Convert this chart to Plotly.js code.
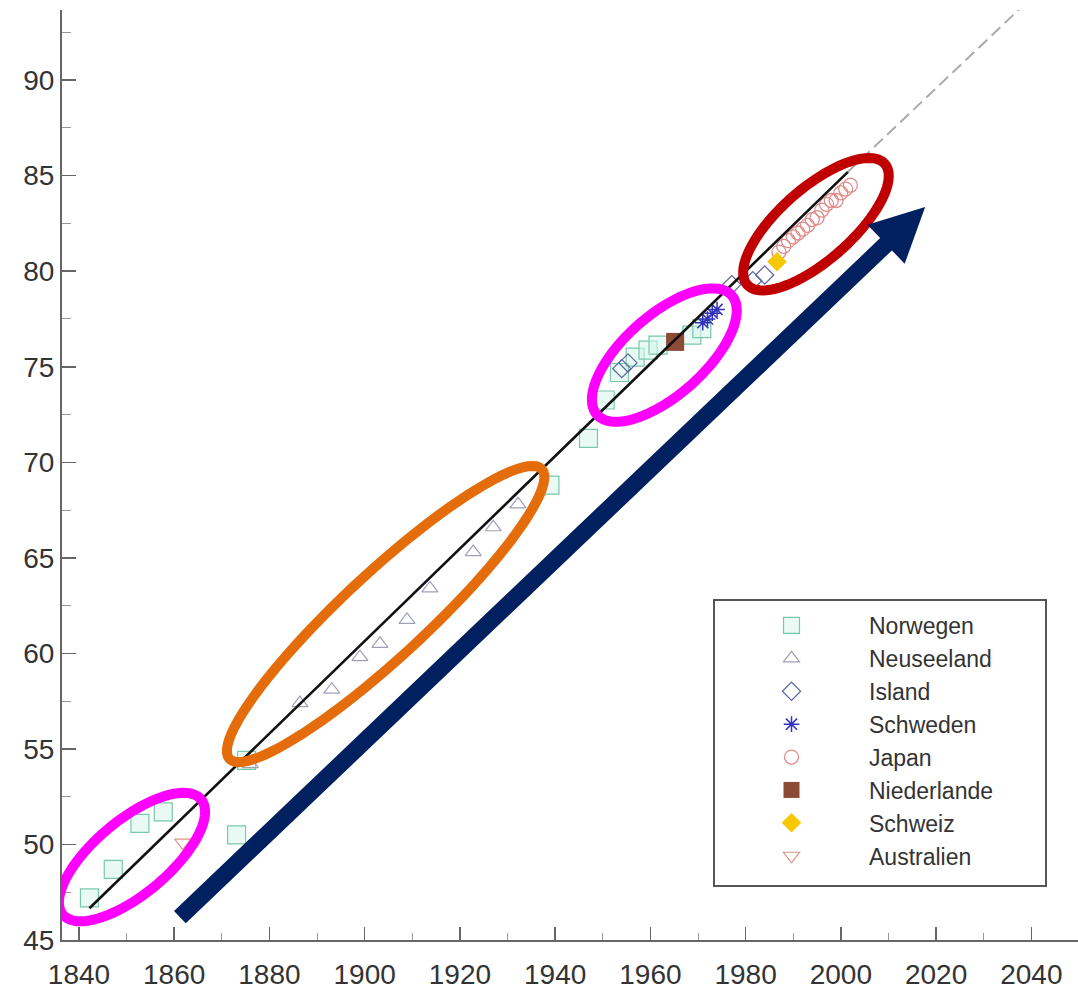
<!DOCTYPE html>
<html>
<head>
<meta charset="utf-8">
<script src="https://cdn.plot.ly/plotly-3.0.1.min.js"></script>
<style>html,body{margin:0;padding:0;background:#fff;}#chart{width:1078px;height:991px;}</style>
</head>
<body>
<div id="chart"></div>
<script>
// ---- data ----
const norwayYears = [1842.2, 1847.2, 1852.8, 1857.7, 1873.1, 1875.2, 1938.9, 1947.0, 1950.5, 1953.5, 1956.8, 1959.5, 1961.6, 1968.7, 1970.8];
const norwayVals  = [47.2, 48.7, 51.1, 51.7, 50.5, 54.4, 68.8, 71.25, 73.26, 74.7, 75.5, 75.87, 76.13, 76.65, 77.0];
const nzYears = [1876.0, 1886.4, 1893.1, 1899.0, 1903.2, 1908.9, 1913.7, 1922.8, 1927.0, 1932.2];
const nzVals  = [54.2, 57.4, 58.1, 59.8, 60.5, 61.75, 63.4, 65.3, 66.6, 67.8];
const icelandYears = [1954.0, 1955.3, 1977.1, 1981.5, 1984.0];
const icelandVals  = [74.9, 75.2, 79.3, 79.5, 79.8];
const swedenYears = [1971.0, 1972.0, 1973.0, 1974.0];
const swedenVals  = [77.3, 77.5, 77.8, 78.0];
const japanYears = [1987, 1988, 1989, 1990, 1991, 1992, 1993, 1994, 1995, 1996, 1997, 1998, 1999, 2000, 2001, 2002];
const japanVals  = [81.0, 81.3, 81.6, 81.8, 82.0, 82.2, 82.4, 82.7, 82.8, 83.2, 83.5, 83.7, 83.7, 84.1, 84.3, 84.5];
const netherlandsYears = [1965.2];
const netherlandsVals  = [76.3];
const switzerlandYears = [1986.6];
const switzerlandVals  = [80.5];
const australiaYears = [1861.8];
const australiaVals  = [50.1];
const trendYears = [1842.2, 2001.5];
const trendVals  = [46.66, 85.2];
const projYears = [2001.5, 2045];
const projVals  = [85.2, 95.49];
const xTickVals = [1840, 1860, 1880, 1900, 1920, 1940, 1960, 1980, 2000, 2020, 2040];
const yTickVals = [45, 50, 55, 60, 65, 70, 75, 80, 85, 90];

// highlight ellipses: centre (year, value), semi-axes in px, rotation deg
const ellipseCx = [1851.14, 1904.4, 1962.93, 1994.77];
const ellipseCy = [49.34, 62.06, 75.61, 82.46];
const ellipseA  = [90, 213, 90, 91.6];
const ellipseB  = [37, 42, 40, 36];
const ellipseRot = [39.8, 42.85, 41.5, 41.3];
const ellipseColors = ['#FF00FF', '#E46C0A', '#FF00FF', '#C00000'];
// big arrow: tail and tip (year, value)
const arrowTail = [1861.2, 46.2];
const arrowTip  = [2017.7, 83.36];

// ---- layout geometry ----
const W = 1078, H = 991;
const M = {l: 62, r: 0, t: 10, b: 51};
const PW = W - M.l - M.r, PH = H - M.t - M.b;
const xRange = [1836.44, 2049.8];
const yRange = [45, 93.67];
const sx = PW / (xRange[1] - xRange[0]);
const sy = PH / (yRange[1] - yRange[0]);

function ellipsePath(cx, cy, a, b, rotDeg) {
  const th = rotDeg * Math.PI / 180;
  let d = '';
  const n = 90;
  for (let i = 0; i <= n; i++) {
    const t = 2 * Math.PI * i / n;
    const ux = a * Math.cos(t), uy = b * Math.sin(t);
    const px = ux * Math.cos(th) - uy * Math.sin(th);
    const py = ux * Math.sin(th) + uy * Math.cos(th); // upward positive
    const X = cx + px / sx, Y = cy + py / sy;
    d += (i === 0 ? 'M' : 'L') + X.toFixed(4) + ',' + Y.toFixed(4);
  }
  return d + 'Z';
}

function arrowPath(tail, tip, shaftW, headL, headHW) {
  const dx = (tip[0] - tail[0]) * sx, dy = (tip[1] - tail[1]) * sy;
  const L = Math.hypot(dx, dy);
  const ux = dx / L, uy = dy / L;
  const nx = -uy, ny = ux;
  const baseL = L - headL;
  const pts = [
    [nx * shaftW / 2, ny * shaftW / 2],
    [ux * baseL + nx * shaftW / 2, uy * baseL + ny * shaftW / 2],
    [ux * baseL + nx * headHW, uy * baseL + ny * headHW],
    [dx, dy],
    [ux * baseL - nx * headHW, uy * baseL - ny * headHW],
    [ux * baseL - nx * shaftW / 2, uy * baseL - ny * shaftW / 2],
    [-nx * shaftW / 2, -ny * shaftW / 2]
  ];
  return pts.map((p, i) => (i === 0 ? 'M' : 'L') + (tail[0] + p[0] / sx).toFixed(4) + ',' + (tail[1] + p[1] / sy).toFixed(4)).join('') + 'Z';
}

// legend frame (pixel box of the reference legend)
const legendBox = {l: 714, r: 1046, t: 600, b: 886};

const shapes = [{type: 'rect', xref: 'paper', yref: 'paper', layer: 'below',
  x0: (legendBox.l - M.l) / PW, x1: (legendBox.r - M.l) / PW,
  y0: (H - M.b - legendBox.b) / PH, y1: (H - M.b - legendBox.t) / PH,
  line: {color: '#555', width: 2}, fillcolor: '#fff'}];
for (let i = 0; i < ellipseCx.length; i++) {
  shapes.push({type: 'path', xref: 'x', yref: 'y', layer: 'above',
    path: ellipsePath(ellipseCx[i], ellipseCy[i], ellipseA[i], ellipseB[i], ellipseRot[i]),
    line: {color: ellipseColors[i], width: 10}, fillcolor: 'rgba(0,0,0,0)'});
}
shapes.push({type: 'path', xref: 'x', yref: 'y', layer: 'above',
  path: arrowPath(arrowTail, arrowTip, 17, 54, 27),
  line: {width: 0}, fillcolor: '#002060'});

function pts(name, xs, ys, marker) {
  return {type: 'scatter', mode: 'markers', name: name, x: xs, y: ys, marker: marker, cliponaxis: false};
}

const traces = [
  pts('Norwegen', norwayYears, norwayVals, {symbol: 'square', size: 18, color: 'rgba(215,245,235,0.55)', line: {color: 'rgb(120,200,170)', width: 1.2}}),
  pts('Neuseeland', nzYears, nzVals, {symbol: 'triangle-up-open', size: 14, color: 'rgb(160,160,185)', line: {width: 1.2}}),
  pts('Island', icelandYears, icelandVals, {symbol: 'diamond-open', size: 14, color: 'rgb(90,100,165)', line: {width: 1.2}}),
  pts('Schweden', swedenYears, swedenVals, {symbol: 'asterisk-open', size: 13, color: 'rgb(50,50,190)', line: {width: 1.5}}),
  pts('Japan', japanYears, japanVals, {symbol: 'circle-open', size: 14, color: 'rgb(225,140,140)', line: {width: 1.3}}),
  pts('Niederlande', netherlandsYears, netherlandsVals, {symbol: 'square', size: 18, color: 'rgb(140,75,55)'}),
  pts('Schweiz', switzerlandYears, switzerlandVals, {symbol: 'diamond', size: 15, color: 'rgb(245,200,0)'}),
  pts('Australien', australiaYears, australiaVals, {symbol: 'triangle-down-open', size: 14, color: 'rgb(215,150,130)', line: {width: 1.2}}),
  {type: 'scatter', mode: 'lines', x: projYears, y: projVals, showlegend: false, hoverinfo: 'skip',
   line: {color: 'rgb(170,170,170)', width: 2, dash: '12px,6px'}},
  {type: 'scatter', mode: 'lines', x: trendYears, y: trendVals, showlegend: false, hoverinfo: 'skip',
   line: {color: '#111', width: 2.6}}
];

const tickFont = {family: 'Liberation Sans, Arial, sans-serif', size: 28, color: '#333'};
const layout = {
  width: W, height: H,
  margin: M,
  paper_bgcolor: '#fff', plot_bgcolor: '#fff',
  showlegend: true,
  xaxis: {range: xRange, showgrid: false, zeroline: false, showline: true, linecolor: '#666', linewidth: 2,
    tickmode: 'array', tickvals: xTickVals, ticktext: xTickVals.map(String), ticks: 'inside', ticklen: 13, tickwidth: 1.5, tickcolor: '#666',
    minor: {dtick: 10, tick0: 1840, ticks: 'inside', ticklen: 7, tickwidth: 1, tickcolor: '#999'},
    tickfont: tickFont, ticklabelstandoff: 8},
  yaxis: {range: yRange, showgrid: false, zeroline: false, showline: true, linecolor: '#666', linewidth: 2,
    tickmode: 'array', tickvals: yTickVals, ticktext: yTickVals.map(String), ticks: 'inside', ticklen: 14, tickwidth: 1.5, tickcolor: '#666',
    minor: {dtick: 2.5, tick0: 45, ticks: 'inside', ticklen: 9, tickwidth: 1, tickcolor: '#999'},
    tickfont: tickFont, ticklabelstandoff: 0},
  legend: {x: (legendBox.l - M.l) / PW, xanchor: 'left', y: (H - M.b - legendBox.t - 4) / PH, yanchor: 'top',
    borderwidth: 0, bgcolor: 'rgba(0,0,0,0)', itemwidth: 145,
    font: {family: 'Liberation Sans, Arial, sans-serif', size: 23, color: '#333'}},
  shapes: shapes
};

Plotly.newPlot('chart', traces, layout, {displayModeBar: false, staticPlot: true});
</script>
</body>
</html>
